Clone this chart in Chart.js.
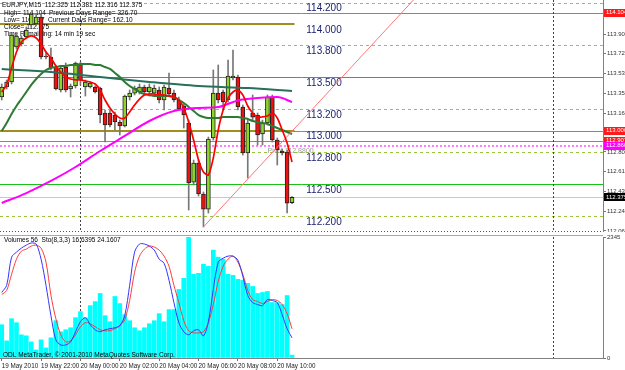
<!DOCTYPE html>
<html>
<head>
<meta charset="utf-8">
<title>EURJPY,M15</title>
<script src="https://cdn.jsdelivr.net/npm/chart.js@4.4.1/dist/chart.umd.min.js"></script>
<style>
  html, body { margin: 0; padding: 0; background: #fff; }
  #wrap { position: relative; width: 625px; height: 370px; overflow: hidden; background: #fff; }
  #priceChart { position: absolute; left: 0; top: 0; }
  #volChart { position: absolute; left: 0; top: 232px; }
</style>
</head>
<body>
<div id="wrap">
  <canvas id="priceChart" width="625" height="232"></canvas>
  <canvas id="volChart" width="625" height="138"></canvas>
</div>
<script>
const FONT = "'Liberation Sans', Arial, sans-serif";

// EURJPY M15 bars, 19 May 20:00 -> 20 May 10:45 (60 bars)
const opens = [113.315, 113.409, 113.456, 113.784, 113.812, 113.877, 113.990, 113.999, 114.065, 113.699,
  113.690, 113.596, 113.381, 113.596, 113.390, 113.418, 113.624, 113.409, 113.409, 113.409,
  113.399, 113.165, 113.165, 113.146, 113.081, 113.043, 113.315, 113.352, 113.362, 113.409,
  113.362, 113.352, 113.381, 113.287, 113.399, 113.352, 113.287, 113.231, 113.071, 112.518,
  112.696, 112.406, 112.265, 112.931, 113.352, 113.362, 113.287, 113.493, 113.502, 113.221,
  112.790, 113.165, 113.146, 112.968, 113.071, 113.315, 112.912, 112.809, 112.799, 112.325];
const highs = [113.437, 113.474, 113.915, 113.905, 113.887, 113.971, 114.104, 114.095, 114.093, 113.737,
  113.774, 113.615, 113.606, 113.634, 113.437, 113.643, 113.643, 113.474, 113.456, 113.418,
  113.409, 113.193, 113.193, 113.174, 113.099, 113.334, 113.381, 113.418, 113.437, 113.427,
  113.437, 113.427, 113.409, 113.427, 113.540, 113.381, 113.315, 113.249, 113.099, 112.724,
  112.724, 112.425, 112.940, 113.568, 113.615, 113.381, 113.662, 113.755, 113.521, 113.240,
  113.099, 113.334, 113.165, 113.099, 113.334, 113.334, 112.931, 112.828, 112.818, 112.381];
const lows = [113.287, 113.390, 113.437, 113.765, 113.793, 113.868, 113.971, 113.980, 113.671, 113.671,
  113.568, 113.381, 113.362, 113.362, 113.315, 113.399, 113.427, 113.324, 113.399, 113.352,
  113.071, 112.893, 113.034, 113.006, 112.959, 113.034, 113.287, 113.334, 113.343, 113.334,
  113.324, 113.334, 113.259, 113.193, 113.324, 113.268, 113.193, 113.024, 112.256, 112.490,
  112.387, 112.097, 112.228, 112.912, 113.259, 113.193, 113.268, 113.474, 113.193, 112.771,
  112.556, 113.099, 112.865, 112.865, 113.053, 112.893, 112.678, 112.771, 112.228, 112.316];
const closes = [113.409, 113.456, 113.896, 113.887, 113.868, 113.943, 114.093, 114.065, 113.690, 113.690,
  113.587, 113.390, 113.587, 113.381, 113.418, 113.634, 113.474, 113.456, 113.446, 113.362,
  113.146, 113.053, 113.053, 113.081, 113.043, 113.324, 113.352, 113.399, 113.409, 113.362,
  113.409, 113.399, 113.287, 113.409, 113.343, 113.287, 113.203, 113.146, 112.509, 112.696,
  112.406, 112.265, 112.921, 113.352, 113.287, 113.268, 113.512, 113.512, 113.221, 112.790,
  113.071, 113.127, 112.959, 113.071, 113.315, 112.912, 112.818, 112.790, 112.321, 112.375];

// moving averages
const maFast = [113.362, 113.428, 113.587, 113.737, 113.831, 113.868, 113.887, 113.868, 113.812, 113.737,
  113.681, 113.606, 113.549, 113.503, 113.484, 113.475, 113.475, 113.465, 113.456, 113.437,
  113.381, 113.287, 113.212, 113.156, 113.118, 113.118, 113.175, 113.240, 113.296, 113.334,
  113.343, 113.343, 113.334, 113.334, 113.324, 113.315, 113.287, 113.212, 113.081, 112.912,
  112.725, 112.612, 112.584, 112.743, 113.006, 113.193, 113.306, 113.362, 113.381, 113.334,
  113.231, 113.165, 113.128, 113.128, 113.137, 113.165, 113.118, 113.006, 112.884, 112.706];
const maMid = [112.996, 113.071, 113.156, 113.231, 113.296, 113.362, 113.428, 113.484, 113.531, 113.568,
  113.587, 113.596, 113.606, 113.606, 113.615, 113.615, 113.624, 113.624, 113.624, 113.615,
  113.615, 113.596, 113.578, 113.540, 113.503, 113.456, 113.418, 113.390, 113.362, 113.343,
  113.334, 113.324, 113.324, 113.324, 113.324, 113.315, 113.287, 113.259, 113.221, 113.184,
  113.146, 113.128, 113.118, 113.118, 113.118, 113.128, 113.128, 113.128, 113.128, 113.118,
  113.109, 113.090, 113.081, 113.071, 113.062, 113.043, 113.025, 113.006, 112.987, 112.968];
const maSlowBars = [0, 10, 20, 30, 40, 50, 59];
const maSlow = [113.577, 113.549, 113.502, 113.456, 113.418, 113.399, 113.371];
const maPinkBars = [0, 5, 10, 15, 20, 25, 30, 35, 40, 44, 48, 52, 56, 59];
const maPink = [112.322, 112.415, 112.528, 112.659, 112.809, 112.950, 113.090, 113.184, 113.212, 113.221, 113.283, 113.306, 113.315, 113.268];

const trendBars = [41, 86];
const trendPrices = [112.097, 114.34];

const volumes = [645, 332, 762, 684, 449, 430, 313, 156, 352, 195,
  391, 723, 508, 547, 586, 782, 899, 782, 1016, 1094,
  1251, 821, 703, 1192, 1055, 840, 723, 586, 528, 586,
  664, 723, 860, 703, 938, 938, 1329, 1544, 2345, 1622,
  1641, 1817, 1778, 2091, 1954, 1915, 1622, 1602, 1524, 1505,
  1446, 1387, 1251, 1270, 1290, 1075, 1075, 1036, 1211, 56];
const stochMain = [54.2, 60.0, 83.3, 87.5, 90.8, 93.3, 95.0, 94.2, 81.7, 60.0,
  35.0, 15.0, 10.8, 10.8, 13.3, 21.7, 30.0, 33.3, 27.5, 23.3,
  21.7, 23.3, 24.2, 25.0, 26.7, 35.0, 60.0, 87.5, 94.2, 94.2,
  92.5, 89.2, 81.7, 78.3, 64.2, 45.8, 29.2, 21.7, 19.2, 22.5,
  23.3, 18.3, 30.0, 56.7, 79.2, 82.5, 84.2, 84.2, 80.8, 67.5,
  51.7, 45.8, 44.2, 43.3, 48.3, 47.5, 45.8, 35.8, 24.2, 16.64];
const stochSignal = [52.5, 55.8, 69.2, 81.7, 88.3, 90.0, 92.5, 93.3, 90.8, 79.2,
  52.0, 32.5, 19.2, 13.3, 14.2, 19.2, 25.8, 29.2, 28.3, 25.8,
  23.3, 22.5, 22.5, 24.2, 26.7, 31.7, 47.5, 70.8, 84.2, 90.0,
  92.5, 91.7, 89.2, 84.2, 75.8, 60.0, 45.8, 30.8, 22.5, 20.8,
  20.8, 21.7, 29.2, 44.2, 63.3, 75.8, 81.7, 84.2, 79.2, 69.2,
  55.8, 48.3, 46.7, 45.0, 46.7, 48.3, 47.5, 44.2, 36.7, 24.16];

const timeTickBars = [0, 8, 16, 24, 32, 40, 48, 56];
const timeTickLabels = ['19 May 2010', '19 May 22:00', '20 May 00:00', '20 May 02:00',
  '20 May 04:00', '20 May 06:00', '20 May 08:00', '20 May 10:00'];
const priceTicks = [112.060, 112.245, 112.430, 112.615, 112.800, 112.980, 113.165, 113.350, 113.535, 113.720, 113.905];
const volumeTicks = [0, 2345];

// levels drawn on the chart
const dashedLevels = [114.2, 113.8, 113.2, 112.8, 112.2];
const greenLevels = [113.5, 112.5];
const oliveLevels = [114.0, 113.0];
const redLevels = [114.104, 113.0, 112.907];
const pivotLevel = 112.86;
const lastPrice = 112.375;
const roundLevels = [114.2, 114.0, 113.8, 113.5, 113.2, 113.0, 112.8, 112.5, 112.2];
const markerPrices = [114.104, 113.0, 112.907, 112.86, 112.375];
const markerColors = ['#ff1a1a', '#ff1a1a', '#ff1a1a', '#ff00ff', '#000000'];
const daySeparators = [16, 112];

const X_MIN = -0.35, X_MAX = 122.2;
const BULL = '#8fd42a', BEAR = '#ee1111';

function points(xs, ys) {
    return ys.map((v, i) => ({ x: xs ? xs[i] : i, y: v }));
}

function hline(ctx, y, color, width, dash, x0, x1) {
    var py = Math.round(y) + (width % 2 ? 0.5 : 0);
    ctx.strokeStyle = color;
    ctx.lineWidth = width;
    ctx.setLineDash(dash);
    ctx.beginPath();
    ctx.moveTo(x0, py);
    ctx.lineTo(x1, py);
    ctx.stroke();
}

function vseparators(chart) {
    var ctx = chart.ctx, a = chart.chartArea, xs = chart.scales.x;
    ctx.save();
    ctx.strokeStyle = '#444';
    ctx.lineWidth = 1;
    ctx.setLineDash([2, 2]);
    for (var b of daySeparators) {
        var px = Math.round(xs.getPixelForValue(b)) + 0.5;
        ctx.beginPath();
        ctx.moveTo(px, a.top);
        ctx.lineTo(px, a.bottom);
        ctx.stroke();
    }
    ctx.restore();
}

const mainPlugin = {
    id: 'mainLevels',
    beforeDatasetsDraw(chart) {
        var ctx = chart.ctx, a = chart.chartArea, xs = chart.scales.x, ys = chart.scales.y;
        ctx.save();
        ctx.beginPath();
        ctx.rect(a.left, a.top, a.right - a.left, a.bottom - a.top);
        ctx.clip();
        for (var p of dashedLevels) hline(ctx, ys.getPixelForValue(p), '#9cc43a', 1, [3, 3], a.left, a.right);
        for (var p of greenLevels) hline(ctx, ys.getPixelForValue(p), '#19c219', 1, [], a.left, a.right);
        hline(ctx, ys.getPixelForValue(lastPrice), '#c8c8c8', 1, [], a.left, a.right);
        hline(ctx, ys.getPixelForValue(pivotLevel), '#ff7cff', 2, [2, 2], a.left, a.right);
        for (var p of redLevels) hline(ctx, ys.getPixelForValue(p), '#f25a5a', 1, [], a.left, a.right);
        var oliveEnd = xs.getPixelForValue(59.5);
        for (var p of oliveLevels) hline(ctx, ys.getPixelForValue(p), '#a08f1e', 2, [], a.left, oliveEnd);
        ctx.setLineDash([]);
        ctx.restore();
        vseparators(chart);

        // text objects
        ctx.save();
        ctx.fillStyle = '#1c2470';
        ctx.font = '10px ' + FONT;
        ctx.textBaseline = 'middle';
        var lx = xs.getPixelForValue(61.9);
        for (var p of roundLevels) ctx.fillText(p.toFixed(3), lx, ys.getPixelForValue(p) + 6);
        ctx.fillStyle = '#9a9a9a';
        ctx.font = '7px ' + FONT;
        ctx.textAlign = 'right';
        ctx.fillText('Pivot 112.8800', xs.getPixelForValue(63.4), ys.getPixelForValue(pivotLevel) + 6);
        ctx.textAlign = 'left';
        ctx.fillStyle = '#000';
        ctx.font = '6.5px ' + FONT;
        ctx.fillText('EURJPY,M15  112.325 112.381 112.316 112.375', 2, 5);
        ctx.fillText('High= 114.104', 4, 13);
        ctx.fillText('Previous Days Range= 326.70', 49, 13);
        ctx.fillText('Low= 110.837', 4, 20);
        ctx.fillText('Current Days Range= 162.10', 48, 20);
        ctx.fillText('Close= 112.375', 4, 27.5);
        ctx.fillText('Time Remaining: 14 min 19 sec', 4, 34.5);
        ctx.restore();
    },
    afterDraw(chart) {
        var ctx = chart.ctx, a = chart.chartArea, ys = chart.scales.y;
        ctx.save();
        hline(ctx, a.bottom - 1, '#555', 1, [1, 2], a.left, a.right);
        ctx.setLineDash([]);
        ctx.font = '6px ' + FONT;
        ctx.textBaseline = 'middle';
        markerPrices.forEach((p, i) => {
            var py = ys.getPixelForValue(p);
            ctx.fillStyle = markerColors[i];
            ctx.fillRect(a.right + 1, Math.round(py) - 4, 22, 8);
            ctx.fillStyle = '#fff';
            ctx.fillText(p.toFixed(3), a.right + 3, py);
        });
        ctx.restore();
    }
};

const volPlugin = {
    id: 'volPanel',
    beforeDatasetsDraw(chart) {
        var ctx = chart.ctx, a = chart.chartArea;
        ctx.save();
        hline(ctx, a.top - 2, '#a8a8a8', 1, [], 0, a.right);
        ctx.restore();
        vseparators(chart);
    },
    afterDatasetsDraw(chart) {
        var ctx = chart.ctx, a = chart.chartArea;
        ctx.save();
        ctx.fillStyle = '#000';
        ctx.font = '6.5px ' + FONT;
        ctx.textBaseline = 'middle';
        ctx.fillText('Volumes 56  Sto(8,3,3) 16.6395 24.1607', 4, a.top + 3.5);
        ctx.fillText('ODL MetaTrader, \u00a9 2001-2010 MetaQuotes Software Corp.', 3, a.bottom - 3);
        ctx.restore();
    }
};

const noPad = s => { s.paddingTop = 0; s.paddingBottom = 0; s.paddingLeft = 0; s.paddingRight = 0; };

new Chart(document.getElementById('priceChart'), {
    type: 'bar',
    data: {
        datasets: [
            { type: 'line', data: points(null, maFast), borderColor: '#ff0000', borderWidth: 1.7, pointRadius: 0, tension: 0.25, order: 1 },
            { type: 'line', data: points(trendBars, trendPrices), borderColor: '#ff7676', borderWidth: 1, pointRadius: 0, order: 2 },
            { type: 'line', data: points(maPinkBars, maPink), borderColor: '#ff00ff', borderWidth: 2, pointRadius: 0, cubicInterpolationMode: 'monotone', order: 3 },
            { type: 'line', data: points(null, maMid), borderColor: '#2d7a34', borderWidth: 2, pointRadius: 0, tension: 0.3, order: 4 },
            { type: 'line', data: points(maSlowBars, maSlow), borderColor: '#26705c', borderWidth: 2, pointRadius: 0, cubicInterpolationMode: 'monotone', order: 5 },
            {
                data: opens.map((o, i) => ({ x: i, y: [o, closes[i]] })),
                grouped: false, barThickness: 4, borderWidth: 1, borderSkipped: false, borderColor: '#222',
                backgroundColor: c => closes[c.dataIndex] >= opens[c.dataIndex] ? BULL : BEAR,
                order: 8
            },
            {
                data: lows.map((l, i) => ({ x: i, y: [l, highs[i]] })),
                grouped: false, barThickness: 1, backgroundColor: '#777', borderWidth: 0, order: 9
            }
        ]
    },
    options: {
        responsive: false,
        animation: false,
        devicePixelRatio: 1,
        events: [],
        layout: { padding: 0 },
        plugins: { legend: { display: false }, tooltip: { enabled: false } },
        scales: {
            x: { type: 'linear', min: X_MIN, max: X_MAX, offset: false, display: false, grid: { offset: false } },
            y: {
                position: 'right', min: 112.05, max: 114.224, beginAtZero: false,
                afterBuildTicks: s => { s.ticks = priceTicks.map(v => ({ value: v })); },
                afterFit: s => { s.width = 22; noPad(s); },
                ticks: { font: { family: FONT, size: 6 }, color: '#333', padding: 1, callback: (v, i) => priceTicks[i].toFixed(3) },
                grid: { drawOnChartArea: false, tickLength: 3, color: '#777' },
                border: { color: '#808080' }
            }
        }
    },
    plugins: [mainPlugin]
});

new Chart(document.getElementById('volChart'), {
    type: 'bar',
    data: {
        datasets: [
            { type: 'line', data: points(null, stochMain), yAxisID: 'ys', borderColor: '#3434ff', borderWidth: 1, pointRadius: 0, tension: 0.3, order: 1 },
            { type: 'line', data: points(null, stochSignal), yAxisID: 'ys', borderColor: '#ff3c3c', borderWidth: 1, pointRadius: 0, tension: 0.3, order: 2 },
            { data: points(null, volumes), yAxisID: 'yv', grouped: false, barThickness: 4, backgroundColor: '#00ffff', borderWidth: 0, order: 3 }
        ]
    },
    options: {
        responsive: false,
        animation: false,
        devicePixelRatio: 1,
        events: [],
        layout: { padding: { top: 5, left: 0, right: 0, bottom: 0 } },
        plugins: { legend: { display: false }, tooltip: { enabled: false } },
        scales: {
            x: {
                type: 'linear', min: X_MIN, max: X_MAX, offset: false,
                afterBuildTicks: s => { s.ticks = timeTickBars.map(v => ({ value: v })); },
                afterFit: s => { s.height = 12; noPad(s); },
                ticks: { autoSkip: false, maxRotation: 0, minRotation: 0, align: 'start', padding: 1,
                    font: { family: FONT, size: 6.3 }, color: '#222', callback: (v, i) => timeTickLabels[i] },
                grid: { drawOnChartArea: false, tickLength: 3, color: '#707070', offset: false },
                border: { color: '#808080' }
            },
            yv: {
                position: 'right', min: 0, max: 2345,
                afterBuildTicks: s => { s.ticks = volumeTicks.map(v => ({ value: v })); },
                afterFit: s => { s.width = 22; noPad(s); },
                ticks: { font: { family: FONT, size: 6 }, color: '#333', padding: 1, callback: (v, i) => String(volumeTicks[i]) },
                grid: { drawOnChartArea: false, tickLength: 3, color: '#777' },
                border: { color: '#808080' }
            },
            ys: { display: false, min: 0, max: 100 }
        }
    },
    plugins: [volPlugin]
});
</script>
</body>
</html>
